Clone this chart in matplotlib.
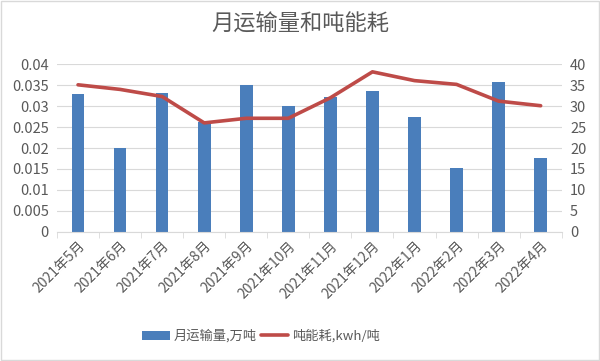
import matplotlib
matplotlib.use("Agg")
import matplotlib.pyplot as plt
import numpy as np

plt.rcParams['font.family'] = ['Noto Sans CJK SC', 'DejaVu Sans']

months = ["2021年5月", "2021年6月", "2021年7月", "2021年8月", "2021年9月", "2021年10月",
          "2021年11月", "2021年12月", "2022年1月", "2022年2月", "2022年3月", "2022年4月"]
volume = [0.0328, 0.0199, 0.0331, 0.0263, 0.0351, 0.0301,
          0.0323, 0.0337, 0.0275, 0.0152, 0.0358, 0.0175]
energy = [35.1, 34.0, 32.3, 26.0, 27.1, 27.1, 32.0, 38.2, 36.1, 35.2, 31.2, 30.1]
left_ticks = [0, 0.005, 0.01, 0.015, 0.02, 0.025, 0.03, 0.035, 0.04]
left_labels = ["0", "0.005", "0.01", "0.015", "0.02", "0.025", "0.03", "0.035", "0.04"]
right_ticks = [0, 5, 10, 15, 20, 25, 30, 35, 40]

txt = "#595959"
fig = plt.figure(figsize=(6.0, 3.61), dpi=100)
ax = fig.add_axes([57/600, 1-231.7/361, (561.7-57)/600, (231.7-64.3)/361])
ax2 = ax.twinx()

x = np.arange(len(months))
b = ax.bar(x, volume, width=0.3, color="#4a7ebb", zorder=2, label="月运输量,万吨")
l, = ax2.plot(x, energy, color="#be4b48", lw=2.6, solid_capstyle='round', zorder=3, label="吨能耗,kwh/吨")

ax.set_xlim(-0.5, len(months) - 0.5)
ax.set_ylim(0, 0.04)
ax2.set_ylim(0, 40)
ax.set_yticks(left_ticks)
ax.set_yticklabels(left_labels)
ax2.set_yticks(right_ticks)
ax.yaxis.grid(True, color="#d9d9d9", lw=0.8, zorder=0)
ax.set_axisbelow(True)
for a in (ax, ax2):
    for s in a.spines.values():
        s.set_visible(False)
    a.tick_params(axis='y', length=0, labelsize=10.5, colors=txt, pad=6)
ax.spines['bottom'].set_visible(True)
ax.spines['bottom'].set_color("#d9d9d9")
ax.set_xticks(np.arange(len(months) + 1) - 0.5, minor=True)
ax.tick_params(axis='x', which='minor', length=4, color="#d9d9d9")
ax.set_xticks(x)
ax.set_xticklabels(months, rotation=45, ha='right', rotation_mode='anchor', fontsize=10, color=txt)
ax.tick_params(axis='x', which='major', length=0, pad=5)

fig.text(0.5, 1-24/361, "月运输量和吨能耗", ha='center', va='center', fontsize=16, color=txt)
fig.legend([b, l], ["月运输量,万吨", "吨能耗,kwh/吨"], loc='center', bbox_to_anchor=(261/600, 1-336/361),
           ncol=2, frameon=False, fontsize=9.5, labelcolor=txt, handlelength=2.1, handletextpad=0.3,
           columnspacing=0.3)

border = plt.Rectangle((0.002, 0.003), 0.996, 0.994, transform=fig.transFigure, fill=False,
                       edgecolor="#d9d9d9", lw=1)
fig.patches.append(border)
fig.savefig("out.png", dpi=100)
